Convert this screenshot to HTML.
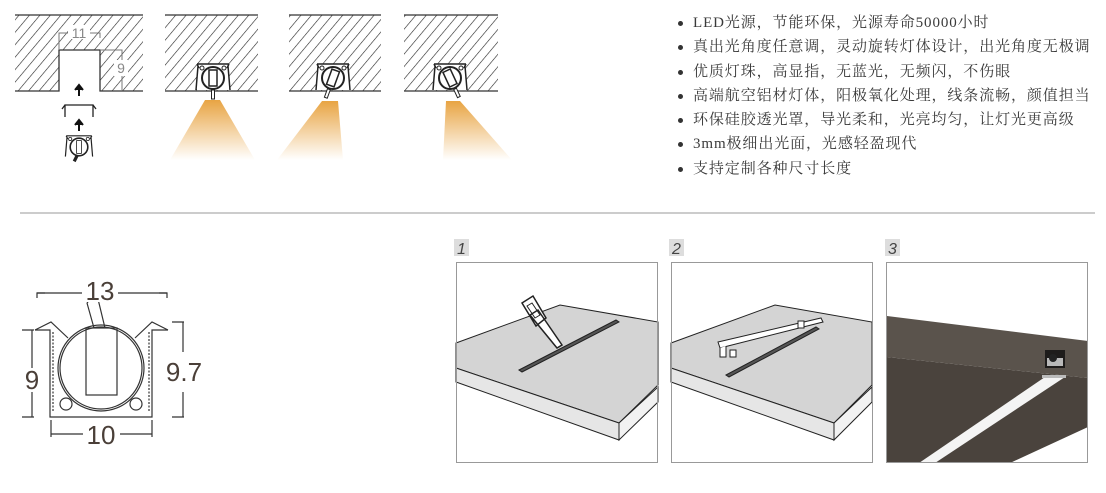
<!DOCTYPE html>
<html><head><meta charset="utf-8"><style>
body{margin:0;width:1106px;height:493px;background:#fff;overflow:hidden;position:relative;font-family:"Liberation Sans",sans-serif}
ul{position:absolute;left:676px;top:11px;margin:0;padding:0;list-style:none;font-family:"Liberation Serif","Noto Serif CJK SC",serif;font-size:15px;letter-spacing:0.9px;color:#3a3a3a}
li{height:24.3px;line-height:24.3px;white-space:nowrap;position:relative;padding-left:17px}
li:before{content:"";position:absolute;left:2px;top:10px;width:5px;height:5px;border-radius:50%;background:#333}
</style></head><body>
<svg width="1106" height="493" style="position:absolute;left:0;top:0">
<defs>
<pattern id="h" width="8" height="8" patternUnits="userSpaceOnUse" patternTransform="rotate(40)">
<line x1="0" y1="0" x2="0" y2="8" stroke="#222" stroke-width="1.2"/></pattern>
<linearGradient id="lg" x1="0" y1="0" x2="0" y2="1"><stop offset="0" stop-color="#e8a443"/><stop offset="1" stop-color="#e8a443" stop-opacity="0"/></linearGradient>
<g id="fx">
<rect x="-16" y="-14" width="32" height="26" fill="#fff"/>
<path d="M-16,-14h32M-16,-14l2,4M16,-14l-2,4M-15,-12l-2,24M15,-12l2,24" stroke="#222" fill="none" stroke-width="1.5"/>
<circle cx="0" cy="0" r="11" fill="#fff" stroke="#222" stroke-width="2"/>
<circle cx="-11" cy="-10" r="2" fill="none" stroke="#222"/><circle cx="11" cy="-10" r="2" fill="none" stroke="#222"/>
</g>
</defs>
<rect x="15" y="15" width="128" height="76" fill="url(#h)"/>
<rect x="59" y="50" width="41" height="42" fill="#fff"/>
<path d="M15,15H143M15,91H59V50H100V91H143" stroke="#333" fill="none" stroke-width="1.3"/>
<path d="M59,50V33H100V38M100,50H122V91" stroke="#777" fill="none"/>
<rect x="68" y="25" width="22" height="14" fill="#fff"/><text x="79" y="38" font-size="14" fill="#888" text-anchor="middle">11</text>
<rect x="114" y="60" width="14" height="16" fill="#fff"/><text x="121" y="73" font-size="14" fill="#888" text-anchor="middle">9</text>
<path d="M79,96v-8M75,90l4,-5l4,5" stroke="#111" stroke-width="2" fill="#111"/>
<path d="M65,117v-12h28v12M65,105l-3,4M93,105l3,4" stroke="#222" fill="none" stroke-width="1.3"/>
<path d="M79,131v-8M75,125l4,-5l4,5" stroke="#111" stroke-width="2" fill="#111"/>
<g transform="translate(79,147) scale(0.8)"><use href="#fx"/><rect x="-3" y="-8" width="6" height="16" fill="#fff" stroke="#222"/><path d="M-2,10l-4,8" stroke="#222" stroke-width="4"/></g>
<g>
<rect x="165" y="15" width="93" height="76" fill="url(#h)"/><path d="M165,15H258M165,91H258" stroke="#333" stroke-width="1.3"/>
<path d="M205,100h15l35,60h-85z" fill="url(#lg)"/>
<g transform="translate(213,78)"><use href="#fx"/><rect x="-4" y="-8" width="8" height="16" fill="#fff" stroke="#222" stroke-width="1.5"/><rect x="-1.5" y="12" width="3" height="9" fill="#fff" stroke="#222"/></g>
<rect x="289" y="15" width="92" height="76" fill="url(#h)"/><path d="M289,15H381M289,91H381" stroke="#333" stroke-width="1.3"/>
<path d="M322,101h16l5,59h-66z" fill="url(#lg)"/>
<g transform="translate(333,78)"><use href="#fx"/><g transform="rotate(20)"><rect x="-4" y="-8" width="8" height="16" fill="#fff" stroke="#222" stroke-width="1.5"/><rect x="-1.5" y="12" width="3" height="9" fill="#fff" stroke="#222"/></g></g>
<rect x="404" y="15" width="94" height="76" fill="url(#h)"/><path d="M404,15H498M404,91H498" stroke="#333" stroke-width="1.3"/>
<path d="M446,101h14l52,59h-69z" fill="url(#lg)"/>
<g transform="translate(450,78)"><use href="#fx"/><g transform="rotate(-25)"><rect x="-4" y="-8" width="8" height="16" fill="#fff" stroke="#222" stroke-width="1.5"/><rect x="-1.5" y="12" width="3" height="9" fill="#fff" stroke="#222"/></g></g>
</g>
<line x1="20" y1="213" x2="1095" y2="213" stroke="#999"/>
<g stroke="#333" fill="none" stroke-width="1.2">
<path d="M37,298V293H167V298"/><path d="M37,293h8M167,293h-8"/>
<path d="M35,330L51,322L68,338M168,330L152,322L135,338"/>
<path d="M35,330h15v87h102v-87h16"/>
<path d="M53,332v80M149,332v80" stroke-dasharray="2,1.5"/>
<circle cx="101" cy="368" r="43"/><circle cx="101" cy="368" r="41"/>
<rect x="86" y="328" width="31" height="67"/>
<path d="M87,303l7,25M98,299l7,29"/><path d="M87,303q4,-6 11,-4"/>
<circle cx="66" cy="404" r="6"/><circle cx="136" cy="404" r="6"/>
<path d="M22,330h12M22,417h12M32,330v38M32,392v25"/>
<path d="M172,322h12M172,417h12M183,322v30M183,392v25"/>
<path d="M51,420v17M152,420v17M51,434h32M120,434h32"/>
</g>
<g font-size="26" fill="#4a3f38" text-anchor="middle">
<rect x="82" y="278" width="36" height="24" fill="#fff"/>
<text x="100" y="300">13</text><text x="32" y="389">9</text><text x="184" y="381">9.7</text><text x="101" y="444">10</text></g>
<g font-size="16" font-style="italic" fill="#444">
<rect x="454" y="239" width="15" height="17" fill="#ddd"/><text x="457" y="254">1</text>
<rect x="669" y="239" width="15" height="17" fill="#ddd"/><text x="672" y="254">2</text>
<rect x="885" y="239" width="15" height="17" fill="#ddd"/><text x="888" y="254">3</text></g>
<g stroke="#222" stroke-width="1">
<path d="M456,343L560,305L658,322V385L619,423L456,368Z" fill="#d4d4d4"/>
<path d="M456,368L619,423V440L456,382Z" fill="#e6e6e6"/>
<path d="M619,423L658,387V402L619,440Z" fill="#f2f2f2"/>
<path d="M519,370L616,320L619,322L522,372Z" fill="#555"/>
<path d="M538,310L562,345L557,348L530,315Z M522,303L533,296L546,318L536,326Z" fill="#fff" stroke-width="1.5"/>
<path d="M527,306l5,-3l8,12l-5,3z" fill="none"/>
<path d="M671,343L775,305L872,322V385L834,423L671,368Z" fill="#d4d4d4"/>
<path d="M671,368L834,423V440L671,382Z" fill="#e6e6e6"/>
<path d="M834,423L872,387V402L834,440Z" fill="#f2f2f2"/>
<path d="M726,375L816,327L819,329L729,377Z" fill="#555"/>
<path d="M718,342L821,318L823,322L720,348Z" fill="#fff"/>
<path d="M720,348V357H726V346" fill="#fff"/>
<rect x="730" y="350" width="6" height="7" fill="#fff"/><rect x="798" y="321" width="6" height="7" fill="#fff"/>
</g>
<rect x="456.5" y="262.5" width="201" height="200" fill="none" stroke="#999"/>
<rect x="671.5" y="262.5" width="201" height="200" fill="none" stroke="#999"/>
<path d="M887,357L1088,378V427L1010,463H887Z" fill="#4a433d"/>
<path d="M887,316L1088,341V378L887,357Z" fill="#5a534c"/>
<rect x="1045" y="350" width="20" height="18" fill="#1e1c1b"/>
<path d="M1047,358h16v8h-16z" fill="#b9b9b9"/><circle cx="1053" cy="358" r="4" fill="#222"/>
<path d="M1045,377h20l-130,86h-16z" fill="#f4f4f4"/>
<path d="M1042,375h24v3h-24z" fill="#bbb"/>
<rect x="886.5" y="262.5" width="201" height="200" fill="none" stroke="#999"/>
</svg>
<ul>
<li>LED光源，节能环保，光源寿命50000小时</li>
<li>真出光角度任意调，灵动旋转灯体设计，出光角度无极调</li>
<li>优质灯珠，高显指，无蓝光，无频闪，不伤眼</li>
<li>高端航空铝材灯体，阳极氧化处理，线条流畅，颜值担当</li>
<li>环保硅胶透光罩，导光柔和，光亮均匀，让灯光更高级</li>
<li>3mm极细出光面，光感轻盈现代</li>
<li>支持定制各种尺寸长度</li>
</ul>
</body></html>
